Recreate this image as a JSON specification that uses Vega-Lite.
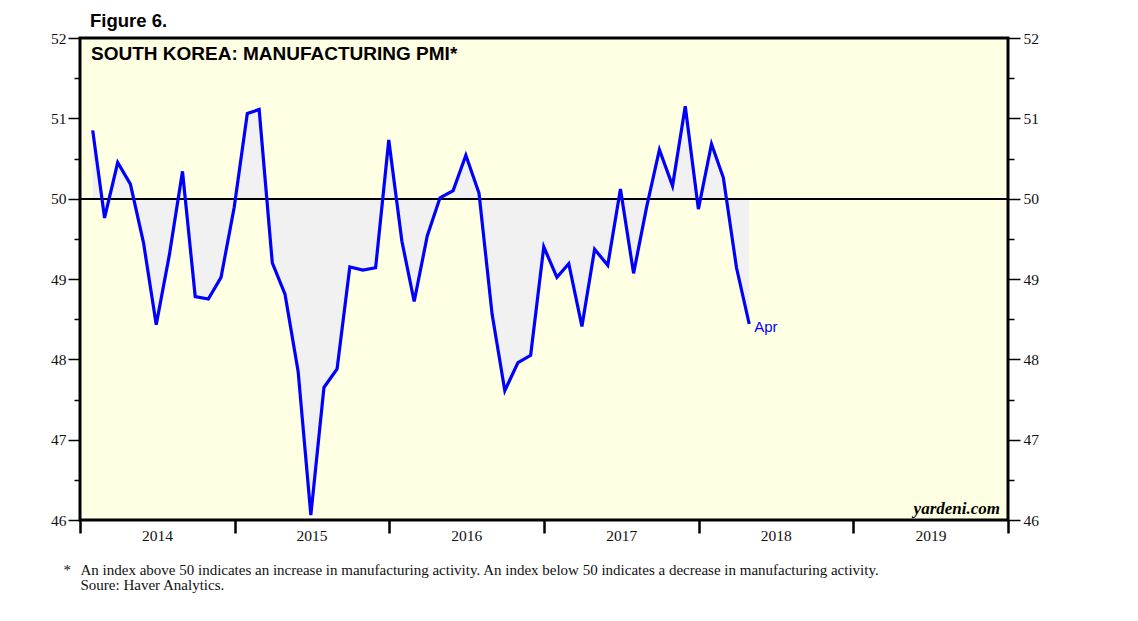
{
  "$schema": "https://vega.github.io/schema/vega-lite/v6.json",
  "width": 928,
  "height": 482,
  "autosize": {"type": "none"},
  "padding": {"left": 80, "top": 38, "right": 130, "bottom": 101},
  "background": "white",
  "config": {
    "view": {"stroke": "black", "strokeWidth": 3, "fill": "#ffffe4"},
    "axis": {"grid": false, "domain": false}
  },
  "title": {
    "text": "Figure 6.",
    "anchor": "start",
    "frame": "group",
    "font": "Liberation Sans",
    "fontSize": 18.5,
    "fontWeight": "bold",
    "color": "black",
    "dx": 10,
    "dy": 5,
    "offset": 6
  },
  "data": {
    "values": [
      {"date": "2014-01-31", "value": 50.85},
      {"date": "2014-02-28", "value": 49.76},
      {"date": "2014-03-31", "value": 50.45},
      {"date": "2014-04-30", "value": 50.18},
      {"date": "2014-05-31", "value": 49.45},
      {"date": "2014-06-30", "value": 48.43},
      {"date": "2014-07-31", "value": 49.3},
      {"date": "2014-08-31", "value": 50.34},
      {"date": "2014-09-30", "value": 48.78},
      {"date": "2014-10-31", "value": 48.75},
      {"date": "2014-11-30", "value": 49.02},
      {"date": "2014-12-31", "value": 49.89},
      {"date": "2015-01-31", "value": 51.06},
      {"date": "2015-02-28", "value": 51.11},
      {"date": "2015-03-31", "value": 49.2},
      {"date": "2015-04-30", "value": 48.81},
      {"date": "2015-05-31", "value": 47.85},
      {"date": "2015-06-30", "value": 46.06},
      {"date": "2015-07-31", "value": 47.65},
      {"date": "2015-08-31", "value": 47.88},
      {"date": "2015-09-30", "value": 49.15},
      {"date": "2015-10-31", "value": 49.11},
      {"date": "2015-11-30", "value": 49.14},
      {"date": "2015-12-31", "value": 50.73},
      {"date": "2016-01-31", "value": 49.47},
      {"date": "2016-02-29", "value": 48.72},
      {"date": "2016-03-31", "value": 49.54},
      {"date": "2016-04-30", "value": 50.01},
      {"date": "2016-05-31", "value": 50.1},
      {"date": "2016-06-30", "value": 50.54},
      {"date": "2016-07-31", "value": 50.07},
      {"date": "2016-08-31", "value": 48.56},
      {"date": "2016-09-30", "value": 47.61},
      {"date": "2016-10-31", "value": 47.96},
      {"date": "2016-11-30", "value": 48.05},
      {"date": "2016-12-31", "value": 49.4},
      {"date": "2017-01-31", "value": 49.02},
      {"date": "2017-02-28", "value": 49.19},
      {"date": "2017-03-31", "value": 48.41},
      {"date": "2017-04-30", "value": 49.37},
      {"date": "2017-05-31", "value": 49.17},
      {"date": "2017-06-30", "value": 50.12},
      {"date": "2017-07-31", "value": 49.07},
      {"date": "2017-08-31", "value": 49.9},
      {"date": "2017-09-30", "value": 50.61},
      {"date": "2017-10-31", "value": 50.16},
      {"date": "2017-11-30", "value": 51.15},
      {"date": "2017-12-31", "value": 49.87},
      {"date": "2018-01-31", "value": 50.68},
      {"date": "2018-02-28", "value": 50.26},
      {"date": "2018-03-31", "value": 49.14},
      {"date": "2018-04-30", "value": 48.44}
    ]
  },
  "resolve": {"axis": {"x": "independent", "y": "independent"}},
  "layer": [
    {
      "mark": {"type": "area", "color": "#f1f1f1"},
      "encoding": {
        "x": {
          "field": "date",
          "type": "temporal",
          "scale": {"domain": [{"year": 2014, "month": 1, "date": 1}, {"year": 2020, "month": 1, "date": 1}]},
          "axis": {
            "values": [
              {"year": 2014, "month": 1, "date": 1},
              {"year": 2015, "month": 1, "date": 1},
              {"year": 2016, "month": 1, "date": 1},
              {"year": 2017, "month": 1, "date": 1},
              {"year": 2018, "month": 1, "date": 1},
              {"year": 2019, "month": 1, "date": 1},
              {"year": 2020, "month": 1, "date": 1}
            ],
            "labelExpr": "year(datum.value) < 2020 ? timeFormat(datum.value, '%Y') : ''",
            "labelOffset": 77,
            "labelFlush": false,
            "labelOverlap": false,
            "labelBound": false,
            "labelFont": "Liberation Serif",
            "labelFontSize": 15.5,
            "labelColor": "#111111",
            "labelPadding": -5,
            "tickSize": 13,
            "tickWidth": 2.5,
            "tickColor": "black",
            "title": ["An index above 50 indicates an increase in manufacturing activity. An index below 50 indicates a decrease in manufacturing activity.", "Soure: Haver Analytics."],
            "titleAnchor": "start",
            "titleAlign": "left",
            "titleBaseline": "alphabetic",
            "titleX": 0,
            "titleY": 54,
            "titleFont": "Liberation Serif",
            "titleFontSize": 15,
            "titleFontWeight": "normal",
            "titleColor": "#111111",
            "titleLineHeight": 15
          }
        },
        "y": {
          "field": "value",
          "type": "quantitative",
          "scale": {"domain": [46, 52], "nice": false, "zero": false},
          "axis": {
            "orient": "left",
            "values": [46, 46.5, 47, 47.5, 48, 48.5, 49, 49.5, 50, 50.5, 51, 51.5, 52],
            "labelExpr": "datum.value % 1 === 0 ? format(datum.value, 'd') : ''",
            "tickSize": {"condition": {"test": "datum.value % 1 === 0", "value": 12}, "value": 6},
            "tickWidth": 1.5,
            "tickColor": "black",
            "labelPadding": 2,
            "labelFont": "Liberation Serif",
            "labelFontSize": 15.5,
            "labelColor": "#111111",
            "title": "*",
            "titleAngle": 0,
            "titleX": -17,
            "titleY": 536,
            "titleAlign": "left",
            "titleBaseline": "alphabetic",
            "titleFont": "Liberation Serif",
            "titleFontSize": 15,
            "titleFontWeight": "normal",
            "titleColor": "#111111"
          }
        },
        "y2": {"datum": 50}
      }
    },
    {
      "mark": {"type": "rule", "color": "black", "strokeWidth": 1.5},
      "encoding": {"y": {"datum": 50, "type": "quantitative", "axis": null}}
    },
    {
      "mark": {"type": "line", "color": "#0000ff", "strokeWidth": 3.2},
      "encoding": {
        "x": {"field": "date", "type": "temporal", "axis": null},
        "y": {
          "field": "value",
          "type": "quantitative",
          "axis": {
            "orient": "right",
            "values": [46, 46.5, 47, 47.5, 48, 48.5, 49, 49.5, 50, 50.5, 51, 51.5, 52],
            "labelExpr": "datum.value % 1 === 0 ? format(datum.value, 'd') : ''",
            "tickSize": {"condition": {"test": "datum.value % 1 === 0", "value": 12}, "value": 6},
            "tickWidth": 1.5,
            "tickColor": "black",
            "labelPadding": 3,
            "labelFont": "Liberation Serif",
            "labelFontSize": 15.5,
            "labelColor": "#111111",
            "title": null
          }
        }
      }
    },
    {
      "data": {"values": [{"date": "2018-04-30", "value": 48.44, "label": "Apr"}]},
      "mark": {"type": "text", "align": "left", "baseline": "middle", "dx": 5, "dy": 3, "font": "Liberation Sans", "fontSize": 15, "color": "#0000ff"},
      "encoding": {
        "x": {"field": "date", "type": "temporal", "axis": null},
        "y": {"field": "value", "type": "quantitative", "axis": null},
        "text": {"field": "label"}
      }
    },
    {
      "data": {"values": [{"label": "SOUTH KOREA: MANUFACTURING PMI*"}]},
      "mark": {"type": "text", "align": "left", "baseline": "alphabetic", "dx": 11, "dy": 22, "font": "Liberation Sans", "fontSize": 19, "fontWeight": "bold", "color": "black"},
      "encoding": {
        "x": {"datum": {"year": 2014, "month": 1, "date": 1}, "type": "temporal", "axis": null},
        "y": {"datum": 52, "type": "quantitative", "axis": null},
        "text": {"field": "label"}
      }
    },
    {
      "data": {"values": [{"label": "yardeni.com"}]},
      "mark": {"type": "text", "align": "right", "baseline": "alphabetic", "dx": -8, "dy": -6, "font": "Liberation Serif", "fontSize": 17, "fontStyle": "italic", "fontWeight": "bold", "color": "black"},
      "encoding": {
        "x": {"datum": {"year": 2020, "month": 1, "date": 1}, "type": "temporal", "axis": null},
        "y": {"datum": 46, "type": "quantitative", "axis": null},
        "text": {"field": "label"}
      }
    }
  ]
}
